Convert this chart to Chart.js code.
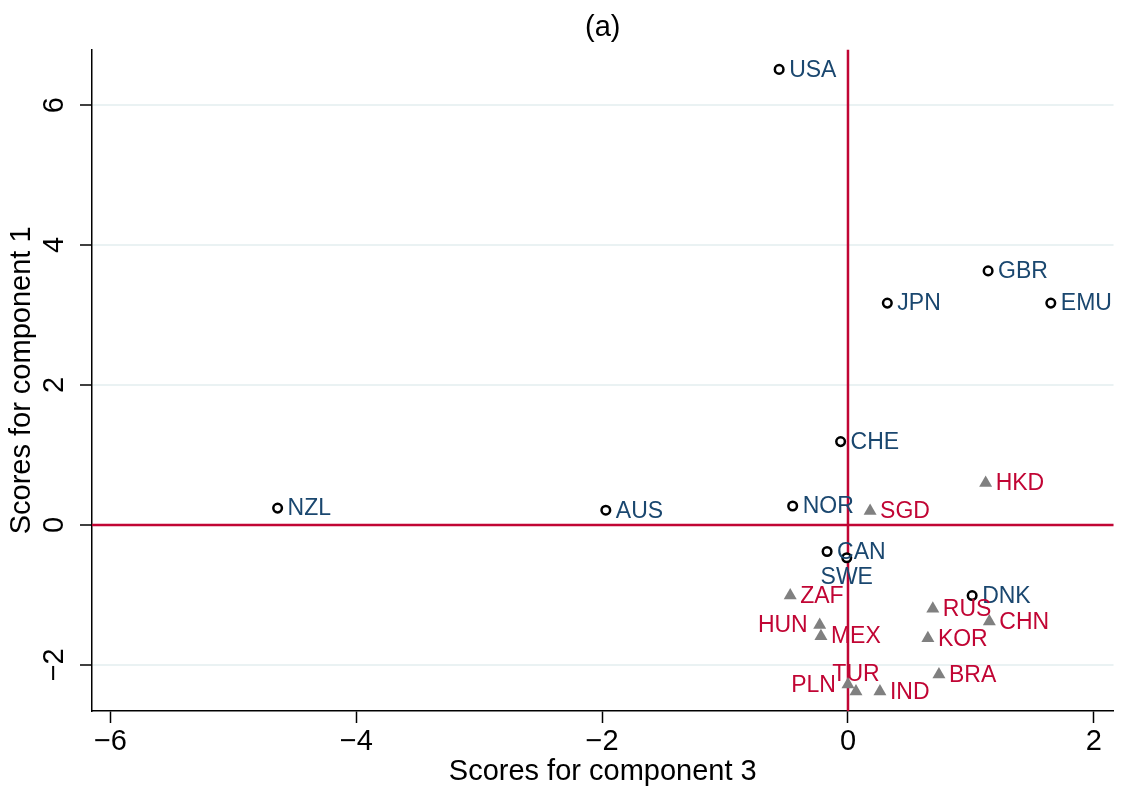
<!DOCTYPE html>
<html>
<head>
<meta charset="utf-8">
<script src="https://cdn.jsdelivr.net/npm/chart.js@4"></script>
<style>
  html, body { margin: 0; padding: 0; background: #fff; }
  #wrap { width: 1121px; height: 794px; }
</style>
</head>
<body>
<div id="wrap"><canvas id="scoreChart"></canvas></div>
<script>
// --- Data (component 3 on x, component 1 on y) ---
const advNames = ['USA', 'GBR', 'JPN', 'EMU', 'CHE', 'NOR', 'NZL', 'AUS', 'CAN', 'SWE', 'DNK'];
const advX     = [-0.56, 1.14, 0.32, 1.65, -0.06, -0.45, -4.64, -1.97, -0.17, -0.01, 1.01];
const advY     = [6.51, 3.63, 3.17, 3.17, 1.19, 0.27, 0.24, 0.21, -0.38, -0.47, -1.01];

const emNames = ['HKD', 'SGD', 'ZAF', 'HUN', 'MEX', 'RUS', 'CHN', 'KOR', 'BRA', 'PLN', 'TUR', 'IND'];
const emX     = [1.12, 0.18, -0.47, -0.23, -0.22, 0.69, 1.15, 0.65, 0.74, 0.00, 0.065, 0.26];
const emY     = [0.60, 0.20, -1.01, -1.43, -1.59, -1.20, -1.38, -1.62, -2.14, -2.28, -2.38, -2.38];

const xTicks = [-6, -4, -2, 0, 2];
const yTicks = [-2, 0, 2, 4, 6];

// label placement (clock position), default is 3 o'clock
const labelPos = { SWE: 6, HUN: 9, PLN: 9, TUR: 12 };

const BLUE = '#1a476f';
const RED = '#c10534';
const FONT = "'Liberation Sans', Arial, sans-serif";

Chart.defaults.font.family = FONT;
Chart.defaults.color = '#000';

const fmt = v => (v < 0 ? '\u2212' + Math.abs(v) : String(v));

// --- Plugins ---
const zeroLines = {
    id: 'zeroLines',
    beforeDatasetsDraw(chart) {
        const { ctx, chartArea: a, scales: { x, y } } = chart;
        const px = x.getPixelForValue(0), py = y.getPixelForValue(0);
        ctx.save();
        ctx.strokeStyle = RED;
        ctx.lineWidth = 2.5;
        ctx.beginPath();
        ctx.moveTo(px, a.top); ctx.lineTo(px, a.bottom);
        ctx.moveTo(a.left, py); ctx.lineTo(a.right, py);
        ctx.stroke();
        ctx.restore();
    }
};

// y tick labels are rotated like the x title of a vertical axis
const yTickLabels = {
    id: 'yTickLabels',
    afterDraw(chart) {
        const { ctx, scales: { y } } = chart;
        ctx.save();
        ctx.font = '29px ' + FONT;
        ctx.fillStyle = '#000';
        ctx.textAlign = 'center';
        ctx.textBaseline = 'middle';
        yTicks.forEach(v => {
            ctx.save();
            ctx.translate(55, y.getPixelForValue(v));
            ctx.rotate(-Math.PI / 2);
            ctx.fillText(fmt(v), 0, 0);
            ctx.restore();
        });
        ctx.restore();
    }
};

// title centred over the plot region, not the canvas
const plotTitle = {
    id: 'plotTitle',
    afterDraw(chart) {
        const { ctx, chartArea: a } = chart;
        ctx.save();
        ctx.font = '29px ' + FONT;
        ctx.fillStyle = '#000';
        ctx.textAlign = 'center';
        ctx.textBaseline = 'middle';
        ctx.fillText('(a)', (a.left + a.right) / 2, 28);
        ctx.restore();
    }
};

const pointLabels = {
    id: 'pointLabels',
    afterDatasetsDraw(chart) {
        const { ctx } = chart;
        ctx.save();
        ctx.font = '23px ' + FONT;
        ctx.textBaseline = 'middle';
        chart.data.datasets.forEach((ds, i) => {
            const meta = chart.getDatasetMeta(i);
            ctx.fillStyle = ds.labelColor;
            meta.data.forEach((pt, j) => {
                const name = ds.names[j];
                const pos = labelPos[name] || 3;
                let tx = pt.x, ty = pt.y;
                if (pos === 3) { ctx.textAlign = 'left'; tx += 10; }
                else if (pos === 9) { ctx.textAlign = 'right'; tx -= 12; }
                else if (pos === 6) { ctx.textAlign = 'center'; ty += 19; }
                else if (pos === 12) { ctx.textAlign = 'center'; ty -= 18; }
                ctx.fillText(name, tx, ty + 1);
            });
        });
        ctx.restore();
    }
};

// --- Chart ---
const ctx = document.getElementById('scoreChart').getContext('2d');
const scoreChart = new Chart(ctx, {
    type: 'scatter',
    data: {
        datasets: [
            {
                label: 'advanced',
                names: advNames,
                labelColor: BLUE,
                data: advX.map((v, i) => ({ x: v, y: advY[i] })),
                pointStyle: 'circle',
                pointRadius: 4.3,
                borderWidth: 2.5,
                borderColor: '#000',
                backgroundColor: '#fff'
            },
            {
                label: 'emerging',
                names: emNames,
                labelColor: RED,
                data: emX.map((v, i) => ({ x: v, y: emY[i] })),
                pointStyle: 'triangle',
                pointRadius: 7.5,
                borderWidth: 0,
                borderColor: '#808080',
                backgroundColor: '#808080'
            }
        ]
    },
    options: {
        responsive: true,
        maintainAspectRatio: false,
        animation: false,
        layout: { padding: { left: 0, right: 7, top: 0, bottom: 0 } },
        plugins: {
            legend: { display: false },
            tooltip: { enabled: false },
            // keeps the space above the plot; the text itself is drawn by plotTitle
            title: {
                display: true,
                text: '(a)',
                font: { size: 29, weight: 'normal' },
                color: 'rgba(0,0,0,0)',
                padding: { top: 10, bottom: 5 }
            }
        },
        scales: {
            x: {
                type: 'linear',
                min: -6.15,
                max: 2.16,
                afterBuildTicks: s => { s.ticks = xTicks.map(v => ({ value: v })); },
                afterFit: s => { s.height = 83; },
                ticks: {
                    font: { size: 29 },
                    color: '#000',
                    padding: 2,
                    maxRotation: 0,
                    callback: v => fmt(v)
                },
                grid: { drawOnChartArea: false, tickColor: '#000', tickLength: 12, tickWidth: 1.5 },
                border: { color: '#000', width: 1.5 },
                title: {
                    display: true,
                    text: 'Scores for component 3',
                    font: { size: 29 },
                    color: '#000',
                    padding: { top: 0, bottom: 4.6 }
                }
            },
            y: {
                type: 'linear',
                min: -2.66,
                max: 6.79,
                afterBuildTicks: s => { s.ticks = yTicks.map(v => ({ value: v })); },
                afterFit: s => { s.width = 92; },
                ticks: { display: false },
                grid: { color: '#eaf2f3', lineWidth: 2, tickColor: '#000', tickLength: 12, tickWidth: 1.5 },
                border: { color: '#000', width: 1.5 },
                title: {
                    display: true,
                    text: 'Scores for component 1',
                    font: { size: 29 },
                    color: '#000',
                    padding: { top: 4.6, bottom: 0 }
                }
            }
        }
    },
    plugins: [zeroLines, pointLabels, yTickLabels, plotTitle]
});
</script>
</body>
</html>
